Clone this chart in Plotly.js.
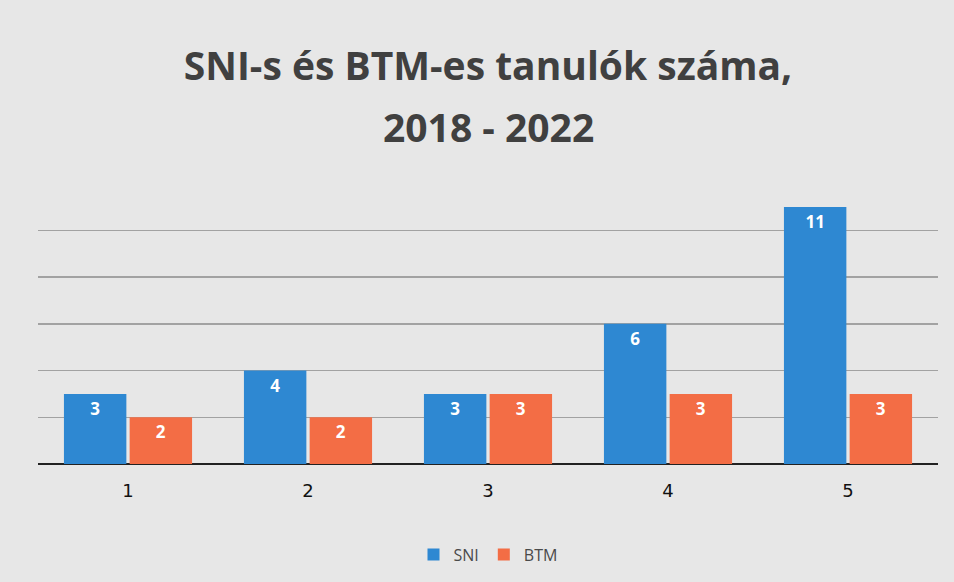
<!DOCTYPE html>
<html>
<head>
<meta charset="utf-8">
<script src="https://cdn.plot.ly/plotly-3.0.1.min.js"></script>
<style>html,body{margin:0;padding:0;background:#fff;}#chart{width:954px;height:582px;}</style>
</head>
<body>
<div id="chart"></div>
<script>
var categories = ["1", "2", "3", "4", "5"];
var sniValues = [3, 4, 3, 6, 11];
var btmValues = [2, 2, 3, 3, 3];
var seriesNames = ["SNI", "BTM"];
var titleLine1 = "SNI-s és BTM-es tanulók száma,";
var titleLine2 = "2018 - 2022";

var titleFont = {family: "Open Sans, Arial, sans-serif", size: 39, color: "#404040", weight: "bold"};
var textFont = {family: "Open Sans, Arial, sans-serif", size: 17, color: "#ffffff", weight: "bold"};
var traces = [
  {type: "bar", name: seriesNames[0], x: categories, y: sniValues,
   marker: {color: "#2e88d2"}, text: sniValues.map(String),
   textposition: "inside", insidetextanchor: "end", textfont: textFont,
   textangle: 0, hoverinfo: "x+y"},
  {type: "bar", name: seriesNames[1], x: categories, y: btmValues,
   marker: {color: "#f36d45"}, text: btmValues.map(String),
   textposition: "inside", insidetextanchor: "end", textfont: textFont,
   textangle: 0, hoverinfo: "x+y"}
];

var layout = {
  width: 954, height: 582,
  paper_bgcolor: "#e7e7e7",
  plot_bgcolor: "#e7e7e7",
  margin: {l: 38, r: 16, t: 186, b: 117},
  title: {text: titleLine1, x: 0.5, xanchor: "center", xref: "paper",
          yref: "container", y: 1 - 66 / 582, yanchor: "middle", font: titleFont},
  annotations: [
    {text: titleLine2, xref: "paper", yref: "paper", x: 0.5, xanchor: "center",
     y: (465 - 126) / 279, yanchor: "middle", showarrow: false, font: titleFont}
  ],
  barmode: "group",
  bargap: 0.27,
  bargroupgap: 0.05,
  xaxis: {type: "category", showgrid: false, showline: false, zeroline: false, ticks: "",
          ticklabelstandoff: 14,
          tickfont: {family: "DejaVu Sans, sans-serif", size: 18, color: "#111111"}},
  yaxis: {range: [0, 11.9], dtick: 2, showticklabels: false, showgrid: true,
          gridcolor: "#a2a2a2", gridwidth: 1.5, zeroline: true, zerolinecolor: "#222222",
          zerolinewidth: 2.5, showline: false, ticks: ""},
  showlegend: true,
  legend: {orientation: "h", x: 0.5, xanchor: "center", y: -0.26, yanchor: "top",
           font: {family: "Open Sans, Arial, sans-serif", size: 16, color: "#4a4a4a"},
           bgcolor: "rgba(0,0,0,0)", itemwidth: 30}
};

Plotly.newPlot("chart", traces, layout, {displayModeBar: false, staticPlot: true});
</script>
</body>
</html>
